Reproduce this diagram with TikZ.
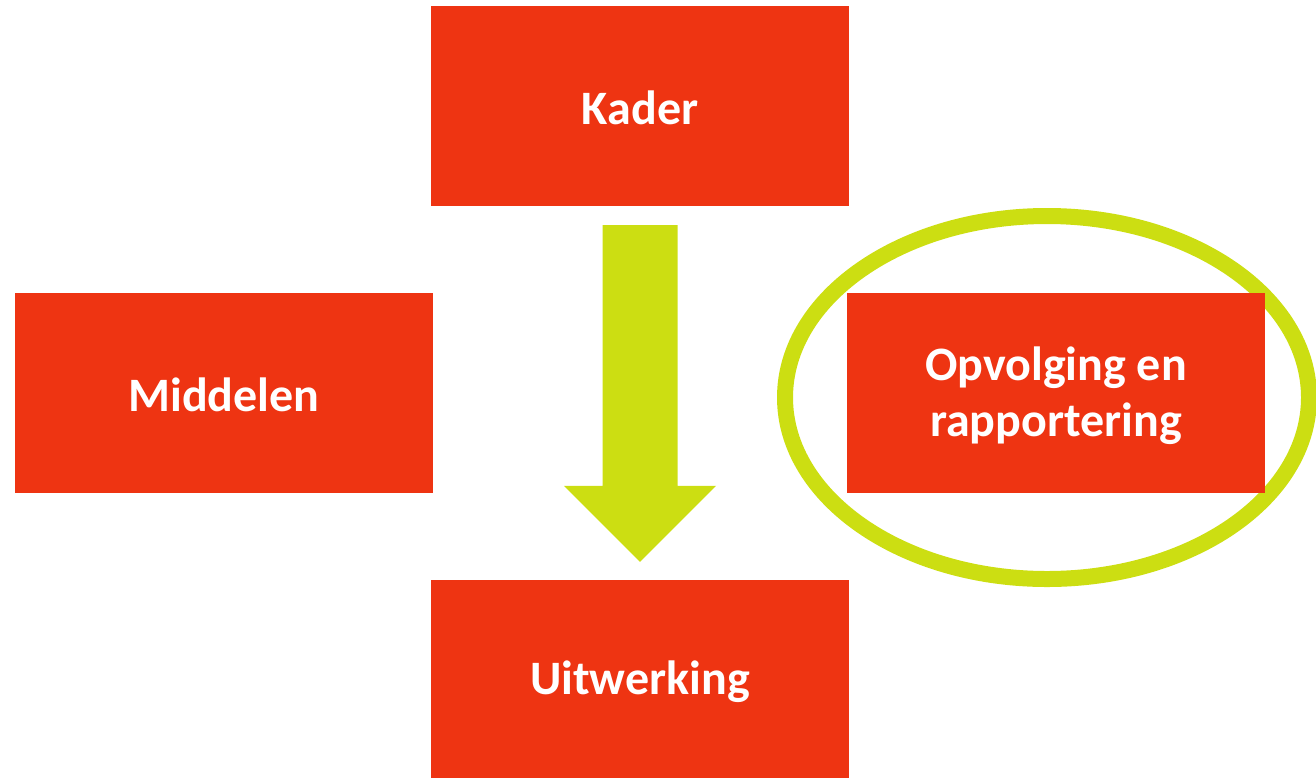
\documentclass[tikz,border=0pt]{standalone}
\usepackage{fontspec}
\setmainfont{Carlito}
\usetikzlibrary{shapes.geometric,calc}

\definecolor{boxred}{RGB}{238,52,18}
\definecolor{limegreen}{RGB}{204,222,18}

\tikzset{
  block/.style={rectangle, fill=boxred, draw=none, inner sep=0pt,
    minimum width=418pt, minimum height=200pt, text=white, align=center,
    font=\fontsize{48}{56}\selectfont\bfseries},
  label/.style={text=white, align=center, inner sep=0pt,
    font=\fontsize{48}{56}\selectfont\bfseries},
  focusring/.style={ellipse, draw=limegreen, line width=16pt, inner sep=0pt,
    minimum width=524pt, minimum height=363pt},
  blockarrow/.style={fill=limegreen, draw=none}
}

\begin{document}
\begin{tikzpicture}[x=1pt, y=-1pt]
  \useasboundingbox (0,0) rectangle (1316,777);

  % highlight ring behind the follow-up block
  \node[focusring] (ring) at (1047,397.5) {};

  % the four blocks
  \node[block] (kader)      at (640,106)  {};
  \node[block] (middelen)   at (224,393)  {};
  \node[block] (opvolging)  at (1056,393) {};
  \node[block] (uitwerking) at (640,680)  {};

  % block captions, set a little below the geometric centre
  \node[label] (kadertxt)  at ($(kader)+(0,2)$)       {Kader};
  \node[label] (midtxt)    at ($(middelen)+(0,2)$)    {Middelen};
  \node[label] (opvtxt)    at ($(opvolging)+(0,3)$)   {Opvolging en\\rapportering};
  \node[label] (uitwtxt)   at ($(uitwerking)+(0,2)$)  {Uitwerking};

  % broad downward arrow from Kader to Uitwerking
  \coordinate (arrtop) at ($(kader.south)+(0,19)$);
  \coordinate (arrtip) at ($(uitwerking.north)+(0,-18)$);
  \fill[blockarrow]
    ($(arrtop)+(-37.5,0)$) -- ($(arrtop)+(37.5,0)$)
    -- ($(arrtip)+(37.5,-76)$) -- ($(arrtip)+(76,-76)$)
    -- (arrtip)
    -- ($(arrtip)+(-76,-76)$) -- ($(arrtip)+(-37.5,-76)$) -- cycle;
\end{tikzpicture}
\end{document}
